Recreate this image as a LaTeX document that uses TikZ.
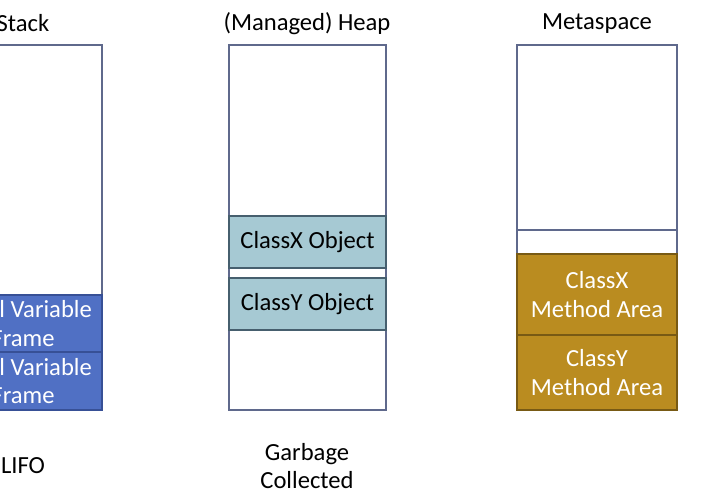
\documentclass[tikz,border=0pt]{standalone}
\usepackage{fontspec}
\setmainfont{Carlito}
\definecolor{memline}{RGB}{95,105,140}
\definecolor{stackblue}{RGB}{80,112,196}
\definecolor{stackedge}{RGB}{55,80,150}
\definecolor{heapblue}{RGB}{166,201,211}
\definecolor{heapedge}{RGB}{70,95,110}
\definecolor{metagold}{RGB}{186,140,32}
\definecolor{metaedge}{RGB}{120,90,20}
\tikzset{x=0.025cm,y=-0.025cm,
  area/.style={draw=memline,line width=0.8pt,fill=white},
  frame/.style={draw=stackedge,fill=stackblue,line width=0.8pt},
  obj/.style={draw=heapedge,fill=heapblue,line width=0.8pt},
  meth/.style={draw=metaedge,fill=metagold,line width=0.8pt},
  lbl/.style={font=\fontsize{17.5}{20.5}\selectfont,align=center,inner sep=0pt}}
\begin{document}
\begin{tikzpicture}
  \useasboundingbox (0,0) rectangle (720,500);
  \clip (0,0) rectangle (720,500);
  % stack
  \draw[area] (-56,45) rectangle (102,410);
  \draw[frame] (-56,295) rectangle (102,352) node[pos=.5,lbl,text=white] (fr1) {Local Variable\\Frame};
  \draw[frame] (-56,352) rectangle (102,410) node[pos=.5,lbl,text=white] (fr2) {Local Variable\\Frame};
  \node[lbl] (stack) at (23,23) {Stack};
  \node[lbl] (lifo) at (23,466) {LIFO};
  % heap
  \draw[area] (229,45) rectangle (386,410);
  \draw[obj] (229,216) rectangle (386,268) node[pos=.5,lbl] (objx) {ClassX Object};
  \draw[obj] (229,278) rectangle (386,330) node[pos=.5,lbl] (objy) {ClassY Object};
  \node[lbl] (heap) at (307,24) {(Managed) Heap};
  \node[lbl] (gc) at (307,466) {Garbage\\Collected};
  % metaspace
  \draw[area] (517,45) rectangle (677,410);
  \draw[memline,line width=0.8pt] (517,230) -- (677,230);
  \draw[meth] (517,254) rectangle (677,335) node[pos=.5,lbl,text=white] (mx) {ClassX\\Method Area};
  \draw[meth] (517,335) rectangle (677,410) node[pos=.5,lbl,text=white] (my) {ClassY\\Method Area};
  \node[lbl] (meta) at (597,24) {Metaspace};
\end{tikzpicture}
\end{document}
